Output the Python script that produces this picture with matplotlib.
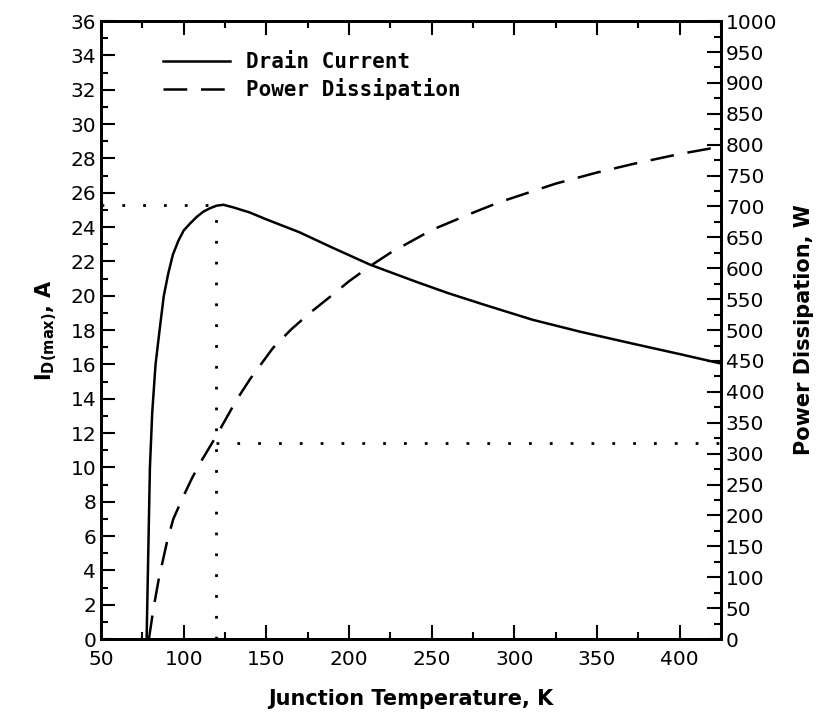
import matplotlib
matplotlib.use("Agg")
import matplotlib.pyplot as plt
from matplotlib.ticker import MultipleLocator

# drain current vs junction temperature (left axis, A)
t_id = [77.6, 78.6, 79.6, 81, 83, 85.7, 88, 90.7, 93.5, 96.8, 100, 103.8, 108, 111.9, 116,
        120, 124, 130, 140, 150, 170, 190, 213, 241, 260, 281, 311, 340, 372, 400, 425]
i_d = [0.0, 5.0, 10.0, 13.2, 16.0, 18.2, 20.0, 21.3, 22.4, 23.2, 23.8, 24.2, 24.6, 24.9, 25.1,
       25.25, 25.3, 25.15, 24.85, 24.45, 23.7, 22.8, 21.8, 20.8, 20.15, 19.5, 18.6, 17.9, 17.2,
       16.6, 16.05]

# power dissipation vs junction temperature (right axis, W)
t_pd = [79, 81.6, 85, 90, 93.7, 100, 105, 110, 119.6, 132, 140, 154, 165, 176, 190, 200,
        213, 225, 250, 275, 291, 325, 350, 372, 400, 425]
p_d = [0, 47, 98, 158, 194, 232, 260, 285, 328, 387, 420, 471, 501, 527, 557, 579,
       604, 625, 662, 690, 707, 737, 755, 769, 785, 797]

# markers for the peak
t_peak = 119.6
i_peak = 25.3
p_peak = 317

plt.rcParams['mathtext.default'] = 'regular'
plt.rcParams['font.family'] = 'DejaVu Sans'

fig = plt.figure(figsize=(8.29, 7.21), dpi=100)
ax = fig.add_axes([0.1218, 0.1137, 0.748, 0.857])
ax2 = ax.twinx()

ax.plot(t_id, i_d, color='black', lw=1.8, label='Drain Current')
ax2.plot(t_pd, p_d, color='black', lw=1.8, dashes=(9.5, 5.5), label='Power Dissipation')

dot = dict(color='black', lw=2, dashes=(1, 6.5))
ax.plot([50, t_peak], [i_peak, i_peak], **dot)
ax.plot([t_peak, t_peak], [0, i_peak], **dot)
ax2.plot([t_peak, 425], [p_peak, p_peak], **dot)

ax.set_xlim(50, 425)
ax.set_ylim(0, 36)
ax2.set_ylim(0, 1000)

ax.xaxis.set_major_locator(MultipleLocator(50))
ax.xaxis.set_minor_locator(MultipleLocator(25))
ax.yaxis.set_major_locator(MultipleLocator(2))
ax.yaxis.set_minor_locator(MultipleLocator(1))
ax2.yaxis.set_major_locator(MultipleLocator(50))
ax2.yaxis.set_minor_locator(MultipleLocator(25))

ax.tick_params(which='both', direction='in', top=True, width=1.5, labelsize=14.5)
ax.tick_params(which='major', length=10)
ax.tick_params(which='minor', length=5)
ax.tick_params(axis='x', pad=8)
ax2.tick_params(which='both', direction='in', width=1.5, labelsize=14.5)
ax2.tick_params(which='major', length=10)
ax2.tick_params(which='minor', length=5)

for a in (ax, ax2):
    for s in a.spines.values():
        s.set_linewidth(2)

ax.set_xlabel('Junction Temperature, K', fontsize=15, fontweight='bold', labelpad=14)
ax.set_ylabel('I$_{D(max)}$, A', fontsize=15, fontweight='bold', labelpad=8)
ax2.set_ylabel('Power Dissipation, W', fontsize=15, fontweight='bold', labelpad=12)

h1, l1 = ax.get_legend_handles_labels()
h2, l2 = ax2.get_legend_handles_labels()
ax.legend(h1 + h2, l1 + l2, loc='upper left', bbox_to_anchor=(0.07, 0.98), frameon=False,
          prop={'family': 'DejaVu Sans Mono', 'weight': 'bold', 'size': 15},
          handlelength=3.2, handletextpad=0.8, labelspacing=0.3)

fig.savefig('out.png', dpi=100)
